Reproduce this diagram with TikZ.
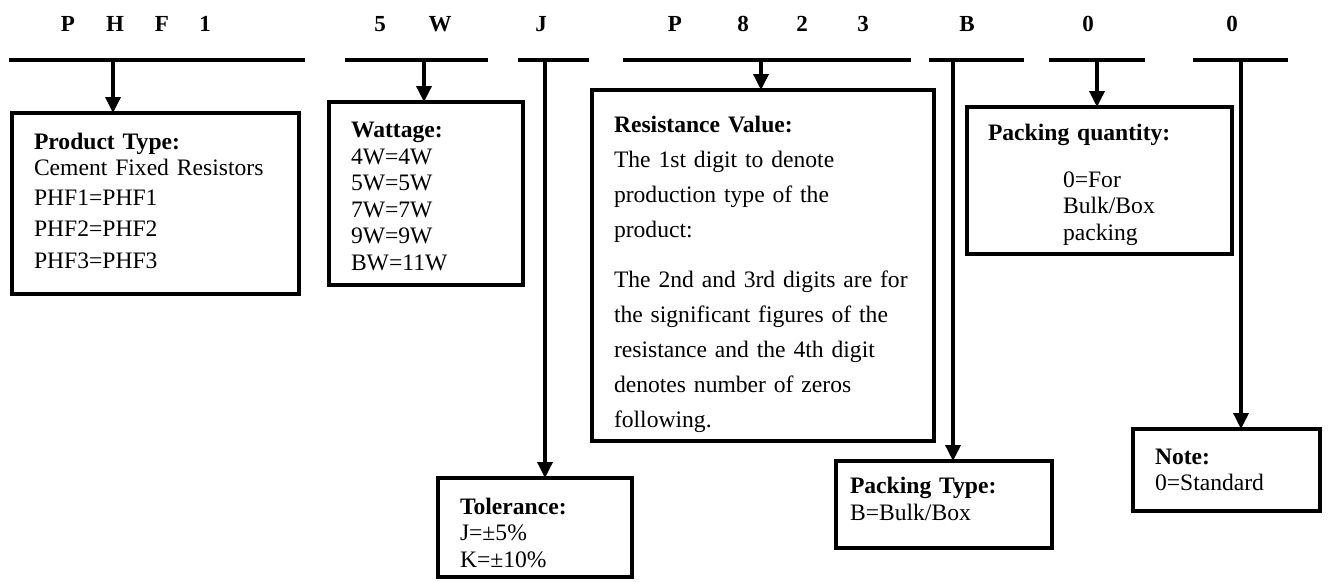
\documentclass[tikz,border=0pt]{standalone}
\usepackage{fontspec}
\setmainfont{Liberation Serif}
\usetikzlibrary{arrows.meta}

\tikzset{
  code/.style={anchor=base, font=\fontsize{23}{23}\selectfont\bfseries},
  bar/.style={line width=3.5pt},
  lead/.style={line width=3.5pt, -{Triangle[width=15pt,length=16pt]}},
  infobox/.style={draw, line width=3.5pt, anchor=north west, outer sep=0pt,
    inner xsep=22pt, inner ysep=0pt, align=left,
    font=\fontsize{23.6}{26.5}\selectfont},
}

\begin{document}
\begin{tikzpicture}[x=1pt, y=-1pt]
\useasboundingbox (0,0) rectangle (1337,581);

% part number characters
\node[code] (cP) at (68,31) {P};
\node[code] (cH) at (115,31) {H};
\node[code] (cF) at (162,31) {F};
\node[code] (c1) at (205,31) {1};
\node[code] (c5) at (380,31) {5};
\node[code] (cW) at (440,31) {W};
\node[code] (cJ) at (541,31) {J};
\node[code] (cP2) at (675,31) {P};
\node[code] (c8) at (743,31) {8};
\node[code] (c2) at (802,31) {2};
\node[code] (c3) at (863,31) {3};
\node[code] (cB) at (967,31) {B};
\node[code] (c0a) at (1088,31) {0};
\node[code] (c0b) at (1232,31) {0};

% bars under the groups
\draw[bar] (9,60) -- (305,60);
\draw[bar] (345,60) -- (488,60);
\draw[bar] (518,60) -- (589,60);
\draw[bar] (623,60) -- (911,60);
\draw[bar] (929,60) -- (1024,60);
\draw[bar] (1049,60) -- (1145,60);
\draw[bar] (1193,60) -- (1288,60);

% boxes
\node[infobox, text width=243pt, minimum height=181pt] (prod) at (12,113)
  {\textbf{Product Type:}\\Cement Fixed Resistors\\[3pt]PHF1=PHF1\\[5pt]PHF2=PHF2\\[5pt]PHF3=PHF3\rule[-6pt]{0pt}{6pt}};
\node[infobox, text width=150pt, minimum height=183pt] (watt) at (329,102)
  {\rule{0pt}{21pt}\textbf{Wattage:}\\4W=4W\\5W=5W\\7W=7W\\9W=9W\\BW=11W};
\node[infobox, text width=298pt, minimum height=351pt, font=\fontsize{23.6}{35}\selectfont] (res) at (592,90)
  {\rule{0pt}{35pt}\textbf{Resistance Value:}\\The 1st digit to denote\\production type of the\\product:\\[15pt]The 2nd and 3rd digits are for\\the significant figures of the\\resistance and the 4th digit\\denotes number of zeros\\following.};
\node[infobox, inner xsep=21pt, text width=223pt, minimum height=147pt] (qty) at (967,107)
  {\rule{0pt}{25pt}\textbf{Packing quantity:}\\[20pt]\hspace*{75pt}0=For\\\hspace*{75pt}Bulk/Box\\\hspace*{75pt}packing};
\node[infobox, text width=150pt, minimum height=99pt] (tol) at (438,478)
  {\rule{0pt}{27pt}\textbf{Tolerance:}\\J=±5\%\\K=±10\%};
\node[infobox, inner xsep=14pt, text width=188pt, minimum height=87pt] (ptype) at (836,461)
  {\textbf{Packing Type:}\\B=Bulk/Box\rule[-11pt]{0pt}{11pt}};
\node[infobox, text width=143pt, minimum height=82pt] (note) at (1133,429)
  {\textbf{Note:}\\0=Standard};

% leads from bars to boxes
\coordinate (t1) at (113,60);
\coordinate (t2) at (424,60);
\coordinate (t3) at (545,60);
\coordinate (t4) at (761,60);
\coordinate (t5) at (953,60);
\coordinate (t6) at (1097,60);
\coordinate (t7) at (1241,60);
\draw[lead] (t1) -- (t1 |- prod.north);
\draw[lead] (t2) -- (t2 |- watt.north);
\draw[lead] (t3) -- (t3 |- tol.north);
\draw[lead] (t4) -- (t4 |- res.north);
\draw[lead] (t5) -- (t5 |- ptype.north);
\draw[lead] (t6) -- (t6 |- qty.north);
\draw[lead] (t7) -- (t7 |- note.north);
\end{tikzpicture}
\end{document}
